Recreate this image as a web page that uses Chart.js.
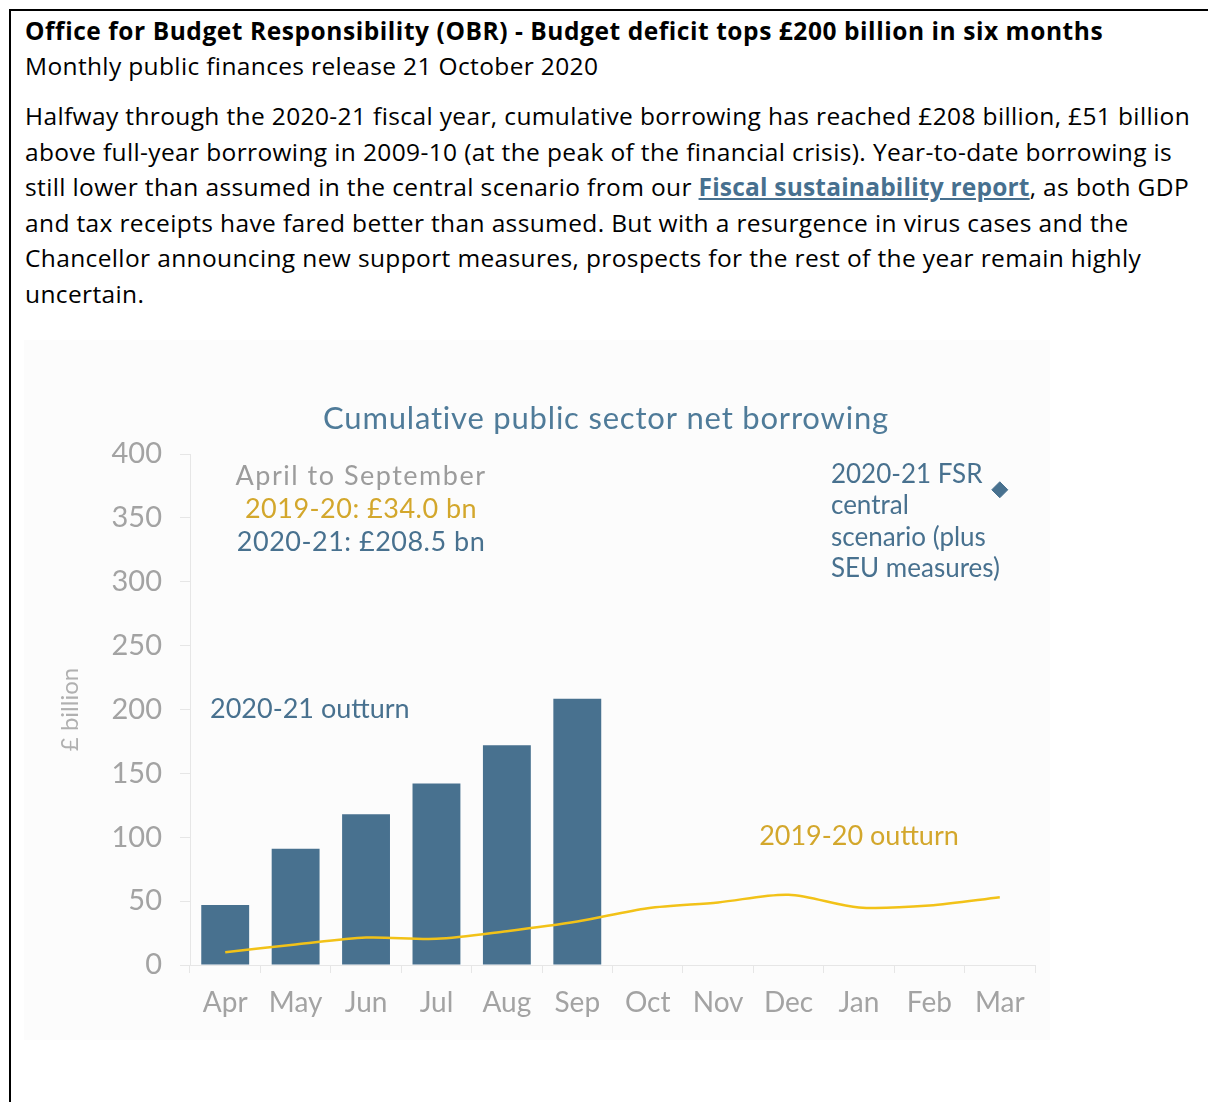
<!DOCTYPE html>
<html>
<head>
<meta charset="utf-8">
<script src="https://cdn.jsdelivr.net/npm/chart.js@4.4.0/dist/chart.umd.min.js"></script>
<style>
  html, body { margin: 0; padding: 0; background: #fff; }
  body { width: 1208px; height: 1102px; overflow: hidden; position: relative; font-family: "Open Sans", sans-serif; color: #000; }
  .box {
    position: absolute; left: 9px; top: 9px; width: 1300px; height: 1200px;
    border-left: 2px solid #000; border-top: 2px solid #000;
  }
  .head { position: absolute; left: 25px; top: 13px; font-size: 24.5px; line-height: 35px; white-space: nowrap; letter-spacing: 0.36px; }
  .head b { font-weight: 700; letter-spacing: 0.56px; }
  .para { position: absolute; left: 25px; top: 98px; font-size: 24.5px; line-height: 35.5px; white-space: nowrap; letter-spacing: 0.37px; }
  .para a { color: #47708f; font-weight: 700; text-decoration: underline; letter-spacing: 0.2px; }
  .chartbox { position: absolute; left: 24px; top: 340px; width: 1026px; height: 700px; background: #fcfcfc; }
</style>
</head>
<body>
<div class="box"></div>
<div class="head">
  <b>Office for Budget Responsibility (OBR) - Budget deficit tops £200 billion in six months</b><br>
  Monthly public finances release 21 October 2020
</div>
<div class="para">
  Halfway through the 2020-21 fiscal year, cumulative borrowing has reached £208 billion, £51 billion<br>
  above full-year borrowing in 2009-10 (at the peak of the financial crisis). Year-to-date borrowing is<br>
  still lower than assumed in the central scenario from our <a>Fiscal sustainability report</a>, as both GDP<br>
  and tax receipts have fared better than assumed. But with a resurgence in virus cases and the<br>
  Chancellor announcing new support measures, prospects for the rest of the year remain highly<br>
  uncertain.
</div>
<div class="chartbox"><canvas id="c" width="1026" height="700"></canvas></div>
<script>
// Data
const months = ['Apr', 'May', 'Jun', 'Jul', 'Aug', 'Sep', 'Oct', 'Nov', 'Dec', 'Jan', 'Feb', 'Mar'];
const outturn2021 = [47, 91, 118, 142, 172, 208.5, null, null, null, null, null, null];
const outturn1920 = [10, 16, 21.5, 20.5, 26.5, 34, 44.5, 49, 55, 45, 46.5, 53];
const fsrCentral = [null, null, null, null, null, null, null, null, null, null, null, 372];
const yMin = 0, yMax = 400, yStep = 50;

const BLUE = '#48718f';
const GOLD = '#f2c218';
const GOLD_TEXT = '#d3a72c';
const GREY = '#a3a3a3';
const FONT = 'Lato, sans-serif';

// texts drawn on the canvas around the plot
const annotate = {
    id: 'annotate',
    afterDraw(chart) {
        const ctx = chart.ctx;
        const x = chart.scales.x, y = chart.scales.y;
        const a = chart.chartArea;
        ctx.save();
        ctx.textBaseline = 'middle';

        // chart title
        ctx.font = '31px ' + FONT;
        ctx.letterSpacing = '0.8px';
        ctx.fillStyle = '#4f7b99';
        ctx.textAlign = 'center';
        ctx.fillText('Cumulative public sector net borrowing', chart.width / 2 + 69, a.top - 35);

        // April to September summary
        ctx.font = '27px ' + FONT;
        const cx = x.getPixelForValue(2) - 5;
        ctx.letterSpacing = '1.5px';
        ctx.fillStyle = '#9c9c9c';
        ctx.fillText('April to September', cx, y.getPixelForValue(382.5));
        ctx.letterSpacing = '0.5px';
        ctx.fillStyle = GOLD_TEXT;
        ctx.fillText('2019-20: £34.0 bn', cx, y.getPixelForValue(357));
        ctx.fillStyle = BLUE;
        ctx.fillText('2020-21: £208.5 bn', cx, y.getPixelForValue(331));

        // series labels
        ctx.letterSpacing = '0px';
        ctx.textAlign = 'left';
        ctx.fillStyle = BLUE;
        ctx.fillText('2020-21 outturn', a.left + 20, y.getPixelForValue(200));
        ctx.fillStyle = GOLD_TEXT;
        ctx.fillText('2019-20 outturn', x.getPixelForValue(7) + 41, y.getPixelForValue(101));

        // FSR label
        ctx.fillStyle = BLUE;
        ctx.font = '26px ' + FONT;
        const fx = x.getPixelForValue(9) - 28;
        ['2020-21 FSR', 'central', 'scenario (plus', 'SEU measures)'].forEach((t, i) => {
            ctx.fillText(t, fx, y.getPixelForValue(384) + i * 31.5);
        });
        ctx.restore();
    }
};

new Chart(document.getElementById('c'), {
    type: 'bar',
    data: {
        labels: months,
        datasets: [
            {
                type: 'line',
                label: '2020-21 FSR central scenario',
                data: fsrCentral,
                showLine: false,
                pointStyle: 'rectRot',
                pointRadius: 8,
                pointBackgroundColor: BLUE,
                pointBorderColor: BLUE,
                order: 0
            },
            {
                type: 'line',
                label: '2019-20 outturn',
                data: outturn1920,
                borderColor: GOLD,
                borderWidth: 2.5,
                pointRadius: 0,
                tension: 0.3,
                order: 1
            },
            {
                label: '2020-21 outturn',
                data: outturn2021,
                backgroundColor: BLUE,
                barPercentage: 0.68,
                categoryPercentage: 1,
                order: 2
            }
        ]
    },
    options: {
        responsive: false,
        animation: false,
        layout: { padding: { top: 114, right: 15, left: 0, bottom: 0 } },
        plugins: {
            legend: { display: false },
            tooltip: { enabled: false }
        },
        scales: {
            x: {
                offset: true,
                grid: {
                    offset: true,
                    drawOnChartArea: false,
                    drawTicks: true,
                    tickLength: 8,
                    color: '#e6e6e6'
                },
                border: { color: '#e6e6e6', width: 1 },
                ticks: {
                    color: GREY,
                    padding: 13,
                    maxRotation: 0,
                    autoSkip: false,
                    font: { family: FONT, size: 28 }
                },
                afterFit(scale) { scale.height = 75; }
            },
            y: {
                min: yMin,
                max: yMax,
                grid: {
                    drawOnChartArea: false,
                    drawTicks: true,
                    tickLength: 10,
                    color: '#e6e6e6'
                },
                border: { color: '#e6e6e6', width: 1 },
                ticks: {
                    stepSize: yStep,
                    color: GREY,
                    padding: 18,
                    font: { family: FONT, size: 29 }
                },
                title: {
                    display: true,
                    text: '£ billion',
                    color: '#b0b0b0',
                    padding: { top: 32, bottom: 0 },
                    font: { family: FONT, size: 24 }
                },
                afterFit(scale) { scale.width = 166; }
            }
        }
    },
    plugins: [annotate]
});
</script>
</body>
</html>
